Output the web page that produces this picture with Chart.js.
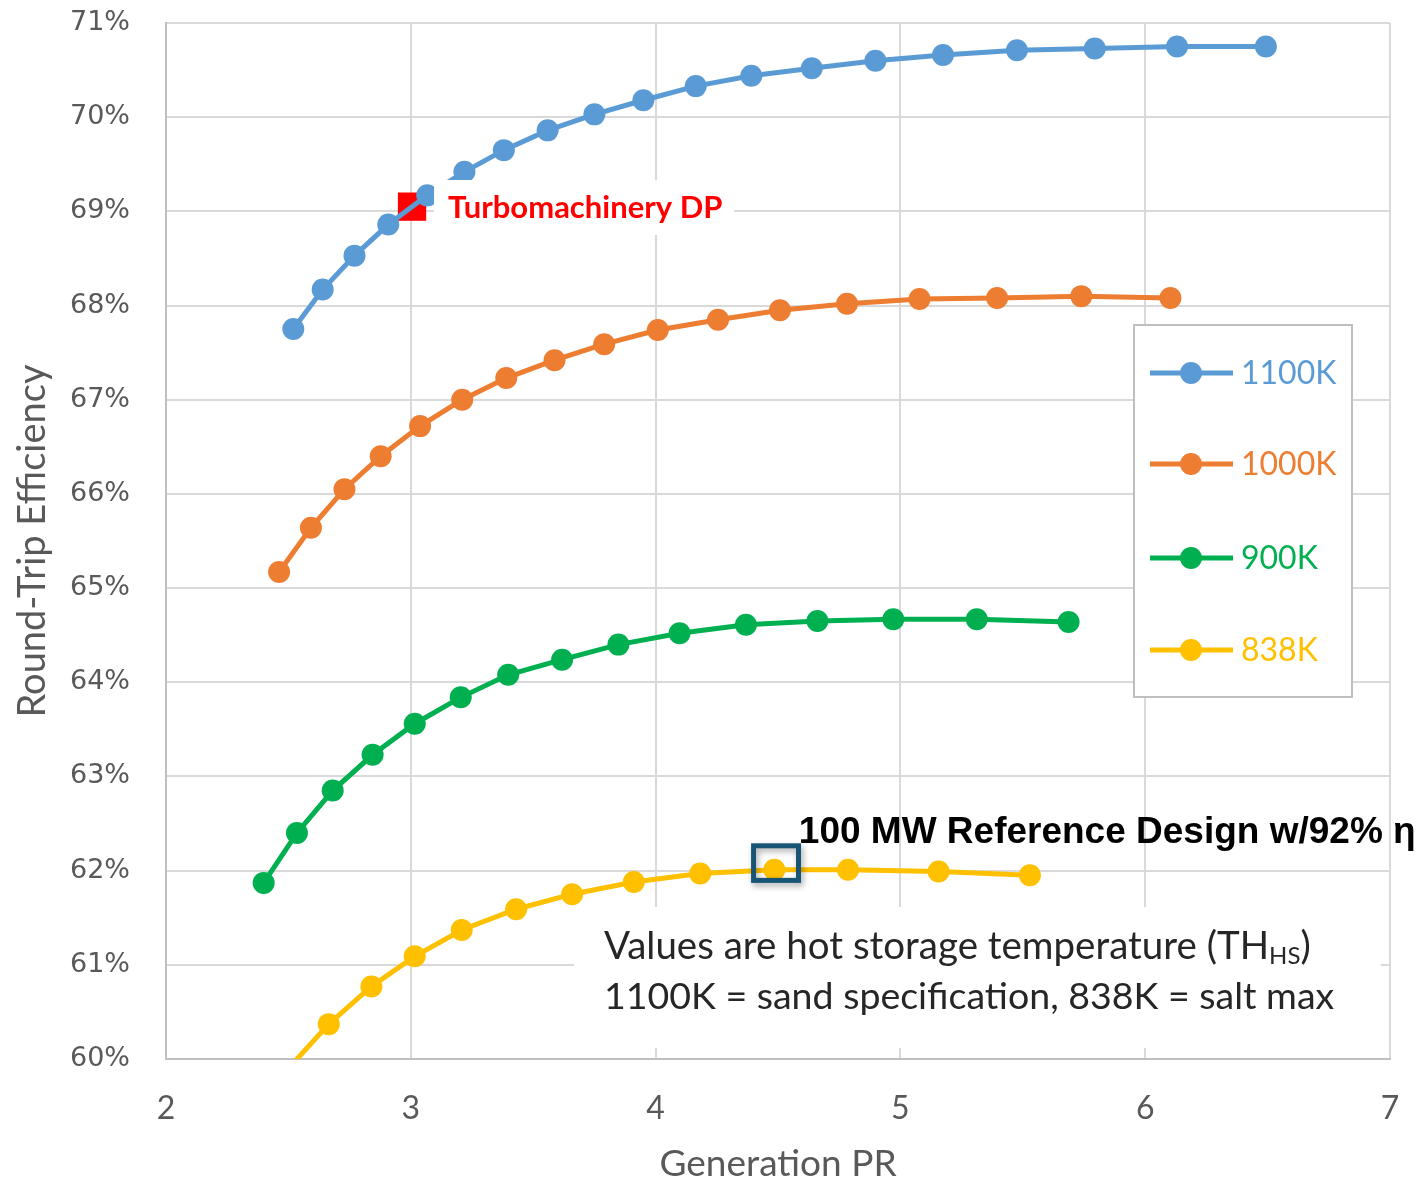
<!DOCTYPE html>
<html>
<head>
<meta charset="utf-8">
<script src="https://cdn.jsdelivr.net/npm/chart.js@4.4.1/dist/chart.umd.min.js"></script>
<style>
    body { margin: 0; background: #fff; }
    #wrap { width: 1422px; height: 1184px; }
</style>
</head>
<body>
<div id="wrap"><canvas id="chart"></canvas></div>
<script>
const seriesLabels = ["1100K", "1000K", "900K", "838K"];
const seriesColors = ["#5B9BD5", "#ED7D31", "#00B050", "#FFC000"];

// Generation PR (x) and round-trip efficiency in % (y), one pair per curve
const pr1100 = [2.52, 2.64, 2.77, 2.908, 3.067, 3.219, 3.38, 3.559, 3.75, 3.95, 4.164, 4.391, 4.638, 4.898, 5.174, 5.476, 5.794, 6.13, 6.493];
const eff1100 = [67.75, 68.17, 68.53, 68.86, 69.17, 69.42, 69.65, 69.86, 70.03, 70.18, 70.33, 70.44, 70.52, 70.6, 70.66, 70.71, 70.73, 70.75, 70.75];

const pr1000 = [2.462, 2.592, 2.729, 2.877, 3.038, 3.21, 3.39, 3.587, 3.79, 4.009, 4.255, 4.508, 4.782, 5.078, 5.395, 5.739, 6.103];
const eff1000 = [65.17, 65.64, 66.05, 66.4, 66.72, 67.0, 67.23, 67.42, 67.59, 67.74, 67.85, 67.95, 68.02, 68.07, 68.08, 68.1, 68.08];

const pr900 = [2.399, 2.535, 2.681, 2.844, 3.016, 3.204, 3.398, 3.618, 3.848, 4.098, 4.369, 4.661, 4.971, 5.312, 5.687];
const eff900 = [61.87, 62.4, 62.85, 63.23, 63.56, 63.84, 64.08, 64.24, 64.4, 64.52, 64.61, 64.65, 64.67, 64.67, 64.64];

const pr838 = [2.486, 2.665, 2.839, 3.016, 3.208, 3.43, 3.659, 3.911, 4.182, 4.485, 4.786, 5.156, 5.529];
const eff838 = [59.86, 60.37, 60.77, 61.09, 61.37, 61.59, 61.75, 61.88, 61.97, 62.01, 62.01, 61.99, 61.95];

const designPointPR = [3.005];
const designPointEff = [69.05];

const xTicks = [2, 3, 4, 5, 6, 7];
const yTicks = [60, 61, 62, 63, 64, 65, 66, 67, 68, 69, 70, 71];

const seriesPR = [pr1100, pr1000, pr900, pr838];
const seriesEff = [eff1100, eff1000, eff900, eff838];

const ctx = document.getElementById("chart");
const gray = "#595959";

const datasets = seriesLabels.map((label, i) => ({
    label: label,
    data: seriesPR[i].map((x, j) => ({ x: x, y: seriesEff[i][j] })),
    showLine: true,
    borderColor: seriesColors[i],
    backgroundColor: seriesColors[i],
    borderWidth: 5,
    pointRadius: 11,
    pointBorderWidth: 0,
    clip: 0,
}));

datasets.push({
    label: "Turbomachinery DP",
    data: designPointPR.map((x, j) => ({ x: x, y: designPointEff[j] })),
    pointStyle: "rect",
    pointRadius: 20,
    pointBorderWidth: 0,
    backgroundColor: "#FF0000",
    borderColor: "#FF0000",
});

// text boxes, reference marker and legend drawn on top of the plot
const notesPlugin = {
    id: "notes",
    afterDatasetsDraw(chart) {
        const c = chart.ctx;
        const xs = chart.scales.x;
        const ys = chart.scales.y;
        const px = v => xs.getPixelForValue(v);
        const py = v => ys.getPixelForValue(v);
        c.save();

        // Turbomachinery DP label
        c.fillStyle = "#fff";
        c.fillRect(px(3.095), py(69.333), px(4.32) - px(3.095), py(68.749) - py(69.333));
        c.fillStyle = "#FF0000";
        c.font = "bold 31px Lato";
        c.textBaseline = "middle";
        c.fillText("Turbomachinery DP", px(3.152), py(69.04));

        // reference design box
        c.shadowColor = "rgba(0,0,0,0.35)";
        c.shadowBlur = 6;
        c.shadowOffsetX = 2;
        c.shadowOffsetY = 3;
        c.strokeStyle = "#175475";
        c.lineWidth = 5;
        const bx = px(4.39), by = py(62.29);
        c.strokeRect(bx + 2.5, by + 2.5, px(4.594) - bx - 5, py(61.87) - by - 5);
        c.shadowColor = "transparent";
        c.fillStyle = "#000";
        c.font = "bold 37px 'Liberation Sans', Arial";
        c.textBaseline = "alphabetic";
        c.fillText("100 MW Reference Design w/92% \u03B7", px(4.585), py(62.45) + 15);

        // notes box
        c.fillStyle = "#fff";
        c.fillRect(px(3.667), py(61.614), px(6.963) - px(3.667), py(60.117) - py(61.614));
        c.fillStyle = "#262626";
        c.textBaseline = "middle";
        c.font = "38.5px Lato";
        let tx = px(3.789);
        const line1 = "Values are hot storage temperature (TH";
        c.fillText(line1, tx, py(61.19));
        tx += c.measureText(line1).width;
        c.font = "24px Lato";
        c.fillText("HS", tx, py(61.19) + 9);
        tx += c.measureText("HS").width;
        c.font = "38.5px Lato";
        c.fillText(")", tx, py(61.19));
        c.font = "37.5px Lato";
        c.fillText("1100K = sand specification, 838K = salt max", px(3.789), py(60.66));

        // legend
        c.fillStyle = "#fff";
        c.fillRect(1134, 325, 218, 372);
        c.strokeStyle = "#bfbfbf";
        c.lineWidth = 2;
        c.strokeRect(1134, 325, 218, 372);
        const rowsY = [373, 464, 558, 650];
        seriesLabels.forEach((label, i) => {
            const y = rowsY[i];
            c.strokeStyle = seriesColors[i];
            c.fillStyle = seriesColors[i];
            c.lineWidth = 5;
            c.beginPath();
            c.moveTo(1150, y);
            c.lineTo(1233, y);
            c.stroke();
            c.beginPath();
            c.arc(1191, y, 11, 0, Math.PI * 2);
            c.fill();
            c.font = "32px Lato";
            c.fillText(label, 1241, y + 1);
        });
        c.restore();
    }
};

new Chart(ctx, {
    type: "scatter",
    data: { datasets: datasets },
    options: {
        responsive: true,
        maintainAspectRatio: false,
        animation: false,
        events: [],
        layout: { padding: { top: 23, right: 32, left: 0, bottom: 0 } },
        plugins: {
            legend: { display: false },
            tooltip: { enabled: false },
        },
        scales: {
            x: {
                type: "linear",
                min: 2,
                max: 7,
                afterBuildTicks: (s) => { s.ticks = xTicks.map(v => ({ value: v })); },
                afterFit: (s) => {
                    s.height = 125;
                    s.paddingLeft = 0;
                    s.paddingRight = 0;
                },
                ticks: { padding: 30, color: gray, font: { family: "Lato", size: 32 } },
                grid: { color: "#d9d9d9", lineWidth: 2, drawTicks: false },
                border: { color: "#bfbfbf", width: 2 },
                title: {
                    display: true,
                    text: "Generation PR",
                    color: gray,
                    font: { family: "Lato", size: 37 },
                    padding: { top: 0, bottom: -2 },
                },
            },
            y: {
                min: 60,
                max: 71,
                afterBuildTicks: (s) => { s.ticks = yTicks.map(v => ({ value: v })); },
                afterFit: (s) => {
                    s.width = 166;
                    s.paddingTop = 0;
                    s.paddingBottom = 0;
                },
                ticks: {
                    padding: 36,
                    color: gray,
                    font: { family: "DejaVu Sans", size: 27 },
                    callback: (v) => v + "%",
                },
                grid: { color: "#d9d9d9", lineWidth: 2, drawTicks: false },
                border: { color: "#bfbfbf", width: 2 },
                title: {
                    display: true,
                    text: "Round-Trip Efficiency",
                    color: gray,
                    font: { family: "Lato", size: 38 },
                    padding: { top: 10, bottom: 0 },
                },
            },
        },
    },
    plugins: [notesPlugin],
});
</script>
</body>
</html>
